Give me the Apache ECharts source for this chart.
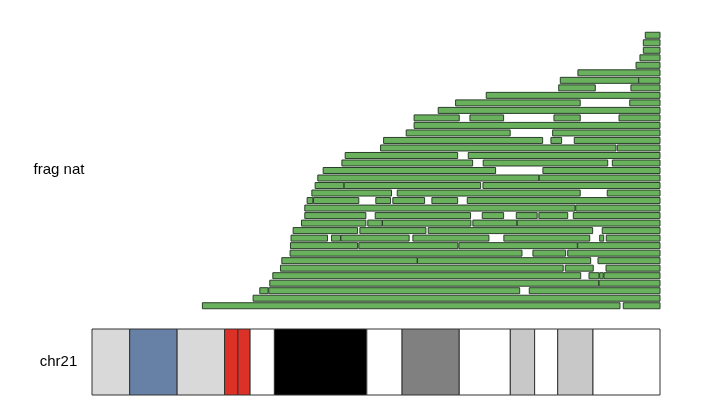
<!DOCTYPE html>
<html>
<head>
<meta charset="utf-8">
<script src="https://cdn.jsdelivr.net/npm/echarts@6/dist/echarts.min.js"></script>
<style>html,body{margin:0;padding:0;background:#fff;}#c{width:717px;height:419px;}</style>
</head>
<body>
<div id="c"></div>
<script>
// Fragment rows (top to bottom), each a list of [start, end] in Mb on chr21
const fragRows = [
  [[45.50,46.71]],
  [[45.34,46.71]],
  [[45.34,46.71]],
  [[45.06,46.71]],
  [[44.74,46.71]],
  [[39.96,46.71]],
  [[38.51,44.96],[44.96,46.71]],
  [[38.38,41.39],[44.32,46.71]],
  [[32.42,46.71]],
  [[29.90,40.15],[44.22,46.71]],
  [[28.47,46.71]],
  [[26.49,30.20],[31.08,33.85],[37.99,40.15],[43.34,46.71]],
  [[26.49,46.71]],
  [[25.84,34.39],[37.88,46.71]],
  [[23.98,37.06],[37.74,38.62],[39.66,46.71]],
  [[23.73,43.09],[43.20,46.71]],
  [[20.82,30.07],[30.94,46.71]],
  [[20.55,31.30],[32.17,42.41],[42.79,46.71]],
  [[19.01,33.19],[37.08,46.71]],
  [[18.57,36.75],[36.78,46.71]],
  [[18.35,20.71],[20.74,31.96],[32.15,46.71]],
  [[18.08,24.63],[25.10,40.15],[42.37,46.71]],
  [[17.69,18.16],[18.22,21.94],[23.34,24.55],[24.74,27.35],[27.95,30.07],[30.86,46.71]],
  [[17.50,39.72],[39.78,46.71]],
  [[17.50,22.52],[23.29,31.13],[32.09,33.85],[34.89,36.61],[36.75,39.12],[39.58,46.71]],
  [[17.23,22.52],[22.68,23.86],[23.89,31.16],[31.32,34.94],[34.97,46.71]],
  [[16.54,21.84],[22.03,27.46],[27.65,41.17],[41.96,46.71]],
  [[16.37,19.37],[19.70,20.44],[20.47,26.08],[26.39,32.64],[33.87,40.93],[41.75,42.08],[42.29,46.71]],
  [[16.32,21.84],[21.94,30.09],[30.17,39.91],[39.94,46.71]],
  [[16.29,35.36],[36.26,38.95],[39.12,46.71]],
  [[15.61,26.74],[26.77,41.01],[41.61,46.71]],
  [[15.50,38.75],[38.92,41.22],[42.27,46.71]],
  [[14.87,40.19],[40.87,41.69],[41.75,42.04],[42.10,46.71]],
  [[14.62,41.67],[41.70,46.71]],
  [[13.80,14.48],[14.54,35.17],[35.96,46.71]],
  [[13.25,46.71]],
  [[9.08,43.42],[43.69,46.71]]
];

// chr21 cytobands (hg38), Mb
const bandNames  = ['p13','p12','p11.2','p11.1','q11.1','q11.2','q21.1','q21.2','q21.3','q22.11','q22.12','q22.13','q22.2','q22.3'];
const bandStarts = [0, 3.1, 7.0, 10.9, 12.0, 13.0, 15.0, 22.6, 25.5, 30.2, 34.4, 36.4, 38.3, 41.2];
const bandEnds   = [3.1, 7.0, 10.9, 12.0, 13.0, 15.0, 22.6, 25.5, 30.2, 34.4, 36.4, 38.3, 41.2, 46.71];
const bandStains = ['gvar','stalk','gvar','acen','acen','gneg','gpos100','gneg','gpos75','gneg','gpos50','gneg','gpos50','gneg'];

const trackLabels = ['frag nat', 'chr21'];
const chromLength = 46.71;

const stainColors = {gvar:'#d9d9d9', stalk:'#6680a6', acen:'#dc3127', gneg:'#ffffff', gpos100:'#000000', gpos75:'#808080', gpos50:'#c8c8c8'};

const fragData = [];
fragRows.forEach((segs, r) => segs.forEach(s => fragData.push([s[0], s[1], r])));
const bandData = bandStarts.map((s, i) => [s, bandEnds[i], bandStains[i]]);

const chart = echarts.init(document.getElementById('c'), null, {renderer:'canvas'});
chart.setOption({
  animation: false,
  backgroundColor: '#fff',
  grid: [
    {left: 92, right: 57, top: 31.5, height: 278},
    {left: 92, right: 57, top: 329, height: 66}
  ],
  xAxis: [
    {gridIndex: 0, type: 'value', min: 0, max: chromLength, show: false},
    {gridIndex: 1, type: 'value', min: 0, max: chromLength, show: false}
  ],
  yAxis: [
    {gridIndex: 0, type: 'value', min: -0.5, max: fragRows.length - 0.5, inverse: true, show: false},
    {gridIndex: 1, type: 'value', min: 0, max: 1, show: false}
  ],
  graphic: [
    {type: 'text', left: 'center', style: {text: trackLabels[0], x: 59, y: 170, align: 'center', verticalAlign: 'middle', font: '15px "Liberation Sans", Arial, sans-serif', fill: '#000'}, left: null},
    {type: 'text', style: {text: trackLabels[1], x: 58.5, y: 362, align: 'center', verticalAlign: 'middle', font: '15px "Liberation Sans", Arial, sans-serif', fill: '#000'}}
  ],
  series: [
    {
      type: 'custom',
      xAxisIndex: 0, yAxisIndex: 0,
      data: fragData,
      renderItem: function (params, api) {
        const p0 = api.coord([api.value(0), api.value(2)]);
        const p1 = api.coord([api.value(1), api.value(2)]);
        const h = 6;
        return {
          type: 'rect',
          shape: {x: p0[0], y: p0[1] - h / 2, width: p1[0] - p0[0], height: h},
          style: {fill: '#69b15d', stroke: '#2a3f2a', lineWidth: 1}
        };
      }
    },
    {
      type: 'custom',
      xAxisIndex: 1, yAxisIndex: 1,
      data: bandData,
      renderItem: function (params, api) {
        const p0 = api.coord([api.value(0), 1]);
        const p1 = api.coord([api.value(1), 0]);
        return {
          type: 'rect',
          shape: {x: p0[0], y: p0[1], width: p1[0] - p0[0], height: p1[1] - p0[1]},
          style: {fill: stainColors[api.value(2)], stroke: '#333', lineWidth: 1}
        };
      }
    }
  ]
});
</script>
</body>
</html>
